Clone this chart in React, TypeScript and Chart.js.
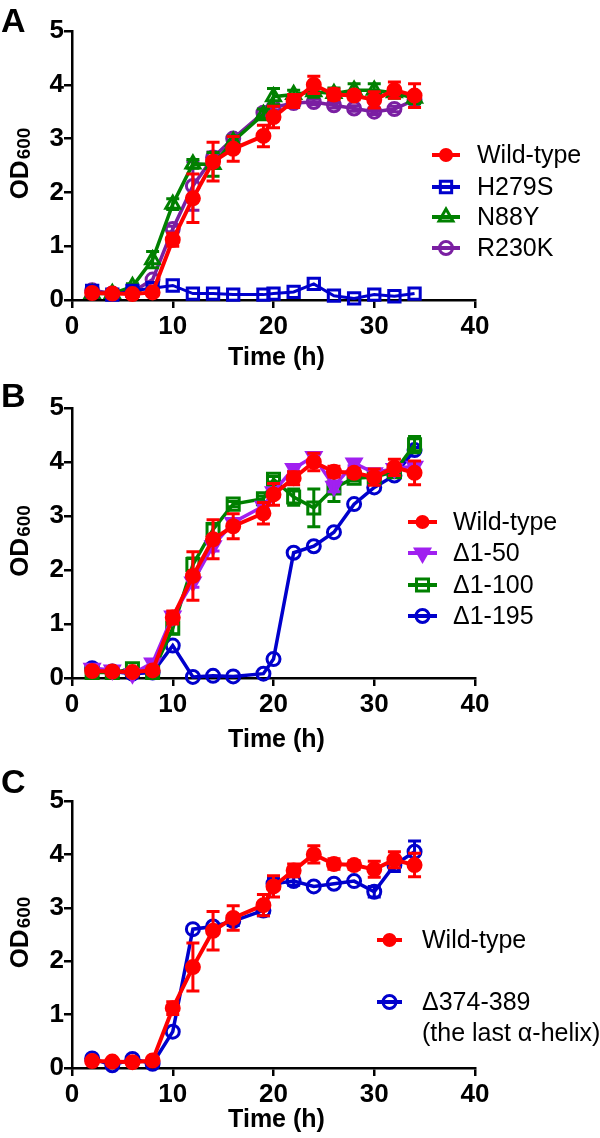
import React, { useEffect, useRef } from 'react';
import { Chart, registerables } from 'chart.js';

Chart.register(...registerables);

const FONT = 'Arial, "Liberation Sans", Helvetica, sans-serif';

// ---------- data ----------
const times = [2, 4, 6, 8, 10, 12, 14, 16, 19, 20, 22, 24, 26, 28, 30, 32, 34];
const xTickValues = [0, 10, 20, 30, 40];
const yTickValues = [0, 1, 2, 3, 4, 5];

const wildType = [0.13, 0.12, 0.11, 0.14, 1.12, 1.89, 2.57, 2.81, 3.05, 3.4, 3.7, 4.0, 3.82, 3.8, 3.72, 3.9, 3.8];
const wildTypeErr = [0.03, 0.03, 0.03, 0.03, 0.12, 0.45, 0.36, 0.23, 0.2, 0.2, 0.12, 0.16, 0.1, 0.08, 0.15, 0.15, 0.22];

const h279s = [0.17, 0.1, 0.17, 0.22, 0.27, 0.12, 0.12, 0.1, 0.1, 0.12, 0.15, 0.3, 0.08, 0.03, 0.1, 0.07, 0.12];
const h279sErr = [0, 0, 0, 0, 0, 0, 0, 0, 0, 0, 0, 0, 0, 0, 0, 0, 0];

const n88y = [0.12, 0.12, 0.25, 0.75, 1.78, 2.53, 2.52, 2.95, 3.45, 3.78, 3.82, 3.87, 3.84, 3.9, 3.9, 3.85, 3.75];
const n88yErr = [0, 0, 0.05, 0.15, 0.1, 0.08, 0.22, 0.1, 0.1, 0.15, 0.08, 0.1, 0.1, 0.12, 0.12, 0.1, 0.1];

const r230k = [0.18, 0.12, 0.15, 0.38, 1.32, 2.12, 2.65, 3.0, 3.48, 3.58, 3.66, 3.68, 3.62, 3.56, 3.5, 3.55, 3.72];
const r230kErr = [0, 0, 0, 0, 0.05, 0.45, 0.1, 0.05, 0.05, 0.05, 0.05, 0.05, 0.05, 0.05, 0.05, 0.05, 0.05];

const d1_50 = [0.18, 0.15, 0.08, 0.28, 1.15, 1.78, 2.45, 2.88, 3.18, 3.45, 3.88, 4.1, 3.55, 3.98, 3.8, 3.88, 3.92];
const d1_50Err = [0, 0, 0, 0, 0.05, 0.1, 0.1, 0.05, 0.05, 0.05, 0.05, 0.05, 0.1, 0.05, 0.05, 0.05, 0.05];

const d1_100 = [0.1, 0.1, 0.17, 0.1, 0.92, 2.1, 2.75, 3.22, 3.32, 3.68, 3.35, 3.15, 3.52, 3.7, 3.72, 3.82, 4.32];
const d1_100Err = [0, 0, 0, 0, 0.1, 0.12, 0.1, 0.05, 0.05, 0.05, 0.15, 0.35, 0.25, 0.05, 0.05, 0.08, 0.15];

const d1_195 = [0.18, 0.12, 0.08, 0.1, 0.6, 0.02, 0.04, 0.03, 0.08, 0.35, 2.32, 2.44, 2.7, 3.22, 3.53, 3.75, 4.22];
const d1_195Err = [0, 0, 0, 0, 0, 0, 0, 0, 0, 0, 0, 0, 0, 0, 0, 0, 0.05];

const d374_389 = [0.18, 0.05, 0.17, 0.08, 0.68, 2.6, 2.65, 2.75, 2.95, 3.45, 3.5, 3.4, 3.45, 3.5, 3.3, 3.8, 4.05];
const d374_389Err = [0, 0, 0, 0, 0, 0, 0, 0.08, 0.1, 0.1, 0.08, 0, 0, 0, 0.1, 0.12, 0.2];

// ---------- styles ----------
const RED = '#ff0000';
const BLUE = '#0000cc';
const GREEN = '#008000';
const PURPLE = '#7a1fa2';
const VIOLET = '#a020f0';

type Series = {
  label: string;
  extra?: string;
  data: number[];
  err: number[];
  color: string;
  style: string;
  fill: boolean;
  radius: number;
  lw: number;
  rot?: number;
};

const wtSeries: Series = { label: 'Wild-type', data: wildType, err: wildTypeErr, color: RED, style: 'circle', fill: true, radius: 6.5, lw: 4 };

type PanelCfg = {
  letter: string;
  top: number;
  h: number;
  areaTop: number;
  areaBottom: number;
  letterBase: number;
  xTitleBase: number;
  series: Series[];
  legendLineX: [number, number];
  legendTextX: number;
  legendRows: number[];
  extraRowY?: number;
};

const panels: PanelCfg[] = [
  {
    letter: 'A', top: 0, h: 379, areaTop: 31, areaBottom: 300, letterBase: 32, xTitleBase: 365,
    series: [
      wtSeries,
      { label: 'H279S', data: h279s, err: h279sErr, color: BLUE, style: 'rect', fill: false, radius: 8, lw: 3 },
      { label: 'N88Y', data: n88y, err: n88yErr, color: GREEN, style: 'triangle', fill: false, radius: 8, lw: 3.5 },
      { label: 'R230K', data: r230k, err: r230kErr, color: PURPLE, style: 'circle', fill: false, radius: 6.5, lw: 3.5 },
    ],
    legendLineX: [432, 460], legendTextX: 477, legendRows: [155, 187, 217, 248],
  },
  {
    letter: 'B', top: 379, h: 379, areaTop: 29, areaBottom: 299, letterBase: 28, xTitleBase: 747 - 379,
    series: [
      wtSeries,
      { label: '\u03941-50', data: d1_50, err: d1_50Err, color: VIOLET, style: 'triangle', fill: true, radius: 8, lw: 3.5, rot: 180 },
      { label: '\u03941-100', data: d1_100, err: d1_100Err, color: GREEN, style: 'rect', fill: false, radius: 8.5, lw: 3.5 },
      { label: '\u03941-195', data: d1_195, err: d1_195Err, color: BLUE, style: 'circle', fill: false, radius: 6.5, lw: 3.5 },
    ],
    legendLineX: [408, 437], legendTextX: 453, legendRows: [522 - 379, 553 - 379, 585 - 379, 616 - 379],
  },
  {
    letter: 'C', top: 758, h: 380, areaTop: 43, areaBottom: 310, letterBase: 35, xTitleBase: 1127 - 758,
    series: [
      wtSeries,
      { label: '\u0394374-389', extra: '(the last \u03b1-helix)', data: d374_389, err: d374_389Err, color: BLUE, style: 'circle', fill: false, radius: 6.5, lw: 3.5 },
    ],
    legendLineX: [377, 402], legendTextX: 422, legendRows: [940 - 758, 1002 - 758], extraRowY: 1033 - 758,
  },
];

// ---------- helpers ----------
function drawMarker(ctx: CanvasRenderingContext2D, s: Series, x: number, y: number) {
  const r = s.radius;
  ctx.save();
  ctx.beginPath();
  if (s.style === 'circle') {
    ctx.arc(x, y, r, 0, Math.PI * 2);
  } else if (s.style === 'rect') {
    const size = r * Math.SQRT1_2;
    ctx.rect(x - size, y - size, size * 2, size * 2);
  } else if (s.style === 'triangle') {
    let rad = ((s.rot || 0) * Math.PI) / 180;
    ctx.moveTo(x + Math.sin(rad) * r, y - Math.cos(rad) * r);
    rad += (2 * Math.PI) / 3;
    ctx.lineTo(x + Math.sin(rad) * r, y - Math.cos(rad) * r);
    rad += (2 * Math.PI) / 3;
    ctx.lineTo(x + Math.sin(rad) * r, y - Math.cos(rad) * r);
    ctx.closePath();
  }
  if (s.fill) {
    ctx.fillStyle = s.color;
    ctx.fill();
  }
  ctx.strokeStyle = s.color;
  ctx.lineWidth = 3;
  ctx.stroke();
  ctx.restore();
}

const errorBarPlugin = {
  id: 'errorBars',
  afterDatasetDraw(chart: any, args: any) {
    const ds = chart.data.datasets[args.index];
    const errs: number[] | undefined = ds.errors;
    if (!errs) return;
    const { ctx } = chart;
    const xs = chart.scales.x;
    const ys = chart.scales.y;
    ctx.save();
    ctx.strokeStyle = ds.borderColor;
    ctx.lineWidth = 3;
    ds.data.forEach((p: any, i: number) => {
      const e = errs[i];
      if (!e) return;
      const px = xs.getPixelForValue(p.x);
      const top = ys.getPixelForValue(p.y + e);
      const bot = ys.getPixelForValue(p.y - e);
      ctx.beginPath();
      ctx.moveTo(px, top);
      ctx.lineTo(px, bot);
      ctx.moveTo(px - 6.5, top);
      ctx.lineTo(px + 6.5, top);
      ctx.moveTo(px - 6.5, bot);
      ctx.lineTo(px + 6.5, bot);
      ctx.stroke();
    });
    ctx.restore();
  },
};

function makeDecorPlugin(cfg: PanelCfg) {
  return {
    id: 'decor' + cfg.letter,
    afterDraw(chart: any) {
      const { ctx, chartArea } = chart;
      ctx.save();
      ctx.fillStyle = '#000';
      // panel letter
      ctx.font = `bold 34px ${FONT}`;
      ctx.textAlign = 'left';
      ctx.textBaseline = 'alphabetic';
      ctx.fillText(cfg.letter, 1, cfg.letterBase);

      // x title
      ctx.font = `bold 25px ${FONT}`;
      ctx.textAlign = 'center';
      ctx.fillText('Time (h)', (chartArea.left + chartArea.right) / 2 + 3, cfg.xTitleBase);

      // y title with subscript
      const cy = (chartArea.top + chartArea.bottom) / 2 - 2;
      ctx.save();
      ctx.translate(28, cy);
      ctx.rotate(-Math.PI / 2);
      ctx.textAlign = 'left';
      ctx.font = `bold 26px ${FONT}`;
      const w1 = ctx.measureText('OD').width;
      ctx.font = `bold 19px ${FONT}`;
      const w2 = ctx.measureText('600').width;
      const start = -(w1 + w2 + 1) / 2;
      ctx.font = `bold 26px ${FONT}`;
      ctx.fillText('OD', start, 0);
      ctx.font = `bold 19px ${FONT}`;
      ctx.fillText('600', start + w1 + 1, 2);
      ctx.restore();

      // legend
      ctx.font = `25px ${FONT}`;
      ctx.textAlign = 'left';
      ctx.textBaseline = 'middle';
      cfg.series.forEach((s, i) => {
        const y = cfg.legendRows[i];
        const [x0, x1] = cfg.legendLineX;
        ctx.save();
        ctx.strokeStyle = s.color;
        ctx.lineWidth = 4;
        ctx.beginPath();
        ctx.moveTo(x0, y);
        ctx.lineTo(x1, y);
        ctx.stroke();
        ctx.restore();
        drawMarker(ctx, { ...s, radius: s.style === 'circle' && s.fill ? 5.5 : s.radius }, (x0 + x1) / 2, y);
        ctx.fillStyle = '#000';
        ctx.fillText(s.label, cfg.legendTextX, y + 1);
        if (s.extra && cfg.extraRowY) {
          ctx.fillText(s.extra, cfg.legendTextX, cfg.extraRowY + 1);
        }
      });
      ctx.restore();
    },
  };
}

function Panel({ cfg }: { cfg: PanelCfg }) {
  const ref = useRef<HTMLCanvasElement>(null);
  useEffect(() => {
    if (!ref.current) return;
    const axisCommon = {
      type: 'linear' as const,
      border: { display: true, color: '#000', width: 2.5 },
      grid: { drawOnChartArea: false, drawTicks: true, tickLength: 8, color: '#000', lineWidth: 2.5 },
      ticks: { color: '#000', font: { family: FONT, size: 26, weight: 'bold' as const, lineHeight: 1.2 }, padding: 0 },
    };
    const chart = new Chart(ref.current, {
      type: 'line',
      data: {
        datasets: cfg.series.map((s) => ({
          label: s.label,
          data: times.map((t, i) => ({ x: t, y: s.data[i] })),
          borderColor: s.color,
          backgroundColor: s.fill ? s.color : 'rgba(0,0,0,0)',
          borderWidth: s.lw,
          pointStyle: s.style as any,
          pointRadius: s.radius,
          pointRotation: s.rot || 0,
          pointBorderWidth: 3,
          pointBorderColor: s.color,
          pointBackgroundColor: s.fill ? s.color : 'rgba(0,0,0,0)',
          tension: 0,
          clip: false as any,
          errors: s.err,
        })) as any,
      },
      options: {
        responsive: false,
        animation: false,
        devicePixelRatio: 1,
        events: [],
        layout: { padding: { left: 0, right: 125, top: cfg.areaTop, bottom: 0 } },
        plugins: { legend: { display: false }, tooltip: { enabled: false } },
        scales: {
          x: {
            ...axisCommon,
            position: 'bottom',
            min: 0,
            max: 40,
            ticks: { ...axisCommon.ticks, padding: 3, maxRotation: 0 },
            afterBuildTicks: (s: any) => {
              s.ticks = xTickValues.map((v) => ({ value: v }));
            },
            afterFit: (s: any) => {
              s.height = cfg.h - cfg.areaBottom;
            },
          },
          y: {
            ...axisCommon,
            position: 'left',
            min: 0,
            max: 5,
            afterBuildTicks: (s: any) => {
              s.ticks = yTickValues.map((v) => ({ value: v }));
            },
            afterFit: (s: any) => {
              s.width = 72;
            },
          },
        } as any,
      },
      plugins: [errorBarPlugin as any, makeDecorPlugin(cfg) as any],
    });
    return () => chart.destroy();
  }, [cfg]);
  return (
    <canvas
      ref={ref}
      width={600}
      height={cfg.h}
      style={{ position: 'absolute', left: 0, top: cfg.top, width: 600, height: cfg.h }}
    />
  );
}

export default function App() {
  return (
    <div style={{ position: 'absolute', left: 0, top: 0, width: 600, height: 1138, background: '#fff', overflow: 'hidden' }}>
      {panels.map((p) => (
        <Panel key={p.letter} cfg={p} />
      ))}
    </div>
  );
}
